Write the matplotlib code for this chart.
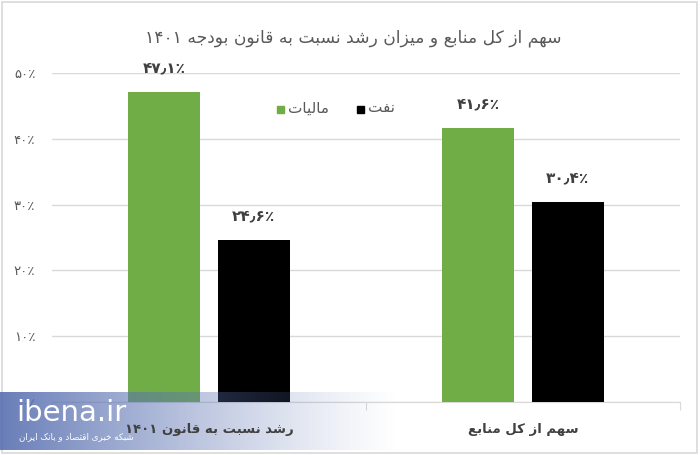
import re
import numpy as np
import matplotlib
matplotlib.use("Agg")
import matplotlib.pyplot as plt
from matplotlib.patches import Rectangle

# ─── data ────────────────────────────────────────────────────────────────────
categories = ["رشد نسبت به قانون ۱۴۰۱", "سهم از کل منابع"]
series_names = ["مالیات", "نفت"]
tax_values = [47.1, 41.6]
oil_values = [24.6, 30.4]
value_labels_tax = ["۴۷٫۱٪", "۴۱٫۶٪"]
value_labels_oil = ["۲۴٫۶٪", "۳۰٫۴٪"]
yticks = [0, 10, 20, 30, 40, 50]
ytick_labels = ["۰٪", "۱۰٪", "۲۰٪", "۳۰٪", "۴۰٪", "۵۰٪"]
title = "سهم از کل منابع و میزان رشد نسبت به قانون بودجه ۱۴۰۱"

GREEN = "#70ad47"
BLACK = "#000000"

# ─── tiny Persian shaper (matplotlib has no bidi / joining) ───────────────────
# letter: (isolated, final, initial, medial); None = does not join forward
FORMS = {
    "ا": ("\uFE8D", "\uFE8E", None, None),
    "ب": ("\uFE8F", "\uFE90", "\uFE91", "\uFE92"),
    "ت": ("\uFE95", "\uFE96", "\uFE97", "\uFE98"),
    "ج": ("\uFE9D", "\uFE9E", "\uFE9F", "\uFEA0"),
    "خ": ("\uFEA5", "\uFEA6", "\uFEA7", "\uFEA8"),
    "د": ("\uFEA9", "\uFEAA", None, None),
    "ر": ("\uFEAD", "\uFEAE", None, None),
    "ز": ("\uFEAF", "\uFEB0", None, None),
    "س": ("\uFEB1", "\uFEB2", "\uFEB3", "\uFEB4"),
    "ش": ("\uFEB5", "\uFEB6", "\uFEB7", "\uFEB8"),
    "ص": ("\uFEB9", "\uFEBA", "\uFEBB", "\uFEBC"),
    "ع": ("\uFEC9", "\uFECA", "\uFECB", "\uFECC"),
    "ف": ("\uFED1", "\uFED2", "\uFED3", "\uFED4"),
    "ق": ("\uFED5", "\uFED6", "\uFED7", "\uFED8"),
    "ل": ("\uFEDD", "\uFEDE", "\uFEDF", "\uFEE0"),
    "م": ("\uFEE1", "\uFEE2", "\uFEE3", "\uFEE4"),
    "ن": ("\uFEE5", "\uFEE6", "\uFEE7", "\uFEE8"),
    "ه": ("\uFEE9", "\uFEEA", "\uFEEB", "\uFEEC"),
    "و": ("\uFEED", "\uFEEE", None, None),
    "ک": ("\uFB8E", "\uFB8F", "\uFB90", "\uFB91"),
    "ی": ("\uFBFC", "\uFBFD", "\uFBFE", "\uFBFF"),
}
NUM_RUN = r"[0-9۰-۹٫٪]+"


def fa(text):
    out = []
    for i, c in enumerate(text):
        if c not in FORMS:
            out.append(c)
            continue
        prev = text[i - 1] if i > 0 else ""
        nxt = text[i + 1] if i + 1 < len(text) else ""
        join_prev = prev in FORMS and FORMS[prev][2] is not None
        join_next = nxt in FORMS and FORMS[c][2] is not None
        iso, fin, ini, med = FORMS[c]
        if join_prev and join_next:
            out.append(med)
        elif join_prev:
            out.append(fin)
        elif join_next:
            out.append(ini)
        else:
            out.append(iso)
    s = "".join(out)
    runs = re.findall(NUM_RUN + "|[^0-9۰-۹٫٪]+", s)
    return "".join(r if re.fullmatch(NUM_RUN, r) else r[::-1] for r in reversed(runs))


plt.rcParams["font.family"] = ["DejaVu Sans"]

# ─── figure ──────────────────────────────────────────────────────────────────
fig = plt.figure(figsize=(7, 4.55), dpi=100)
ax = fig.add_axes([0.0743, 0.1165, 0.8971, 0.7231])

x = np.arange(len(categories))
off, w = 0.143, 0.229
ax.bar(x - off, tax_values, width=w, color=GREEN, zorder=3)
ax.bar(x + off, oil_values, width=w, color=BLACK, zorder=3)

for xi, v, lab in zip(x - off, tax_values, value_labels_tax):
    ax.annotate(lab, (xi, v), xytext=(0, 12), textcoords="offset points",
                ha="center", va="bottom", fontsize=11, fontweight="bold", color="#404040")
for xi, v, lab in zip(x + off, oil_values, value_labels_oil):
    ax.annotate(lab, (xi, v), xytext=(0, 12), textcoords="offset points",
                ha="center", va="bottom", fontsize=11, fontweight="bold", color="#404040")

ax.set_xlim(-0.5, 1.5)
ax.set_ylim(0, 50)
ax.set_yticks(yticks)
ax.set_yticklabels(ytick_labels, fontsize=9.5, color="#595959")
ax.tick_params(axis="y", length=0, pad=12)
ax.grid(axis="y", color="#d9d9d9", linewidth=1, zorder=0)
for s in ["left", "right", "top"]:
    ax.spines[s].set_visible(False)
ax.spines["bottom"].set_color("#d9d9d9")

# category ticks at boundaries, labels centred
ax.set_xticks([-0.5, 0.5, 1.5])
ax.set_xticklabels([])
ax.tick_params(axis="x", length=6, color="#d9d9d9", direction="out")
for xi, cat in zip(x, categories):
    fig.text(xi, -0.085, fa(cat), transform=ax.get_xaxis_transform(), ha="center", va="center",
             fontsize=9.5, fontweight="bold", color="#404040", zorder=8)

# legend (square to the left of text)
for (lx, name, col) in [(277, series_names[0], GREEN), (357, series_names[1], BLACK)]:
    fig.patches.append(Rectangle((lx / 700, 1 - 113 / 455), 7 / 700, 7 / 455,
                                 transform=fig.transFigure, color=col))
    fig.text((lx + 11) / 700, 1 - 108 / 455, fa(name), ha="left", va="center",
             fontsize=11, color="#595959")

fig.text(0.505, 1 - 38 / 455, fa(title), ha="center", va="center", fontsize=12.3, color="#595959")

# outer frame
fig.patches.append(Rectangle((2 / 700, 2 / 455), 695 / 700, 451 / 455, transform=fig.transFigure,
                             fill=False, edgecolor="#d9d9d9", linewidth=1.2))

# watermark band
t = np.linspace(0, 1, 256)
grad = np.zeros((1, 256, 4))
grad[..., 0] = 0.36
grad[..., 1] = 0.45
grad[..., 2] = 0.70
grad[0, :, 3] = np.clip(1.0 - t, 0, 1) ** 1.2 * 0.92
wax = fig.add_axes([0, 5 / 455, 400 / 700, 58 / 455], zorder=5)
wax.imshow(grad, aspect="auto", extent=[0, 1, 0, 1])
wax.axis("off")
fig.text(16 / 700, 1 - 413 / 455, "ibena.ir", ha="left", va="center", fontsize=21,
         color="white", zorder=6)
fig.text(19 / 700, 1 - 437 / 455, fa("شبکه خبری اقتصاد و بانک ایران"), ha="left", va="center",
         fontsize=6.3, color="white", zorder=6)

fig.savefig("out.png", dpi=100)
